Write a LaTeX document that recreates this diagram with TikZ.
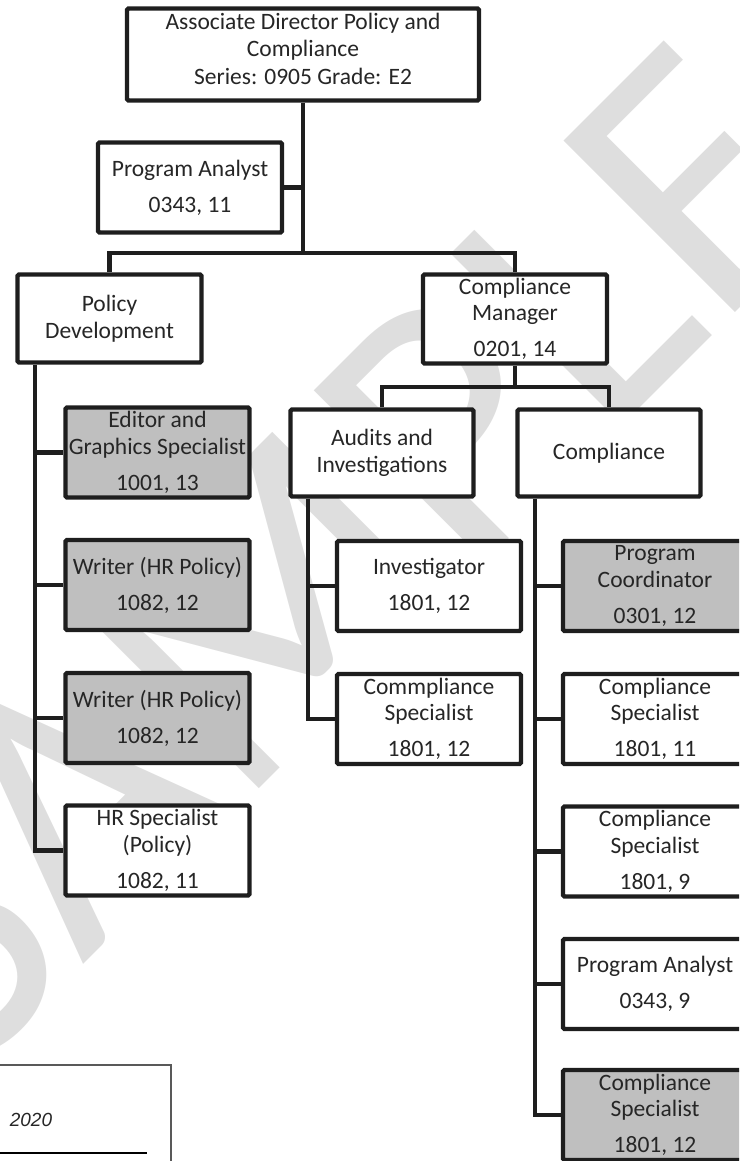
\documentclass[tikz,border=0pt]{standalone}
\usepackage{fontspec}
\setmainfont{Carlito}
\newfontfamily\wmfont{Carlito}
\newfontfamily\arialf{Liberation Sans}
\definecolor{linec}{HTML}{1E1E1E}
\definecolor{textc}{HTML}{262626}
\definecolor{fillg}{HTML}{BFBFBF}
\definecolor{wmc}{HTML}{DEDEDE}
\newcommand{\boxfont}{\fontsize{23.5}{26.5}\selectfont}
\tikzset{
  box/.style={draw=linec, line width=4.3pt, rounded corners=1.5pt, fill=white,
    minimum width=184pt, minimum height=90pt, inner sep=0pt, align=center,
    text=textc, font=\boxfont},
  gbox/.style={box, fill=fillg},
  conn/.style={draw=linec, line width=4.7pt},
}
\begin{document}
\begin{tikzpicture}[x=1pt,y=-1pt]
\useasboundingbox (0,0) rectangle (739,1161);
\begin{scope}
\clip (0,0) rectangle (739,1161);
% watermark
\node[text=wmc, rotate=45, anchor=base west, inner sep=0pt, outer sep=0pt,
  font=\wmfont\fontsize{378}{378}\selectfont] (wm) at (-38,1086) {SAMPLE};

% junctions
\coordinate (j1) at (303,253);
\coordinate (j2) at (515,387);
\coordinate (ls) at (35,0);
\coordinate (as) at (308,0);
\coordinate (cs) at (535,0);

% nodes
\node[box, minimum width=352pt, minimum height=92pt, align=none, font=\fontsize{23.5}{27.5}\selectfont] (top) at (303,54.5)
  {\raisebox{3pt}[\height][\depth]{\begin{tabular}{@{}c@{}}Associate Director Policy and\\Compliance\\Series: 0905 Grade: E2\end{tabular}}};
\node[box] (pa) at (190,187.5) {Program Analyst\\[9.5pt]0343, 11};
\node[box, minimum height=88pt] (pd) at (109.5,318.5) {Policy\\Development};
\node[box, minimum height=89pt] (cm) at (515,319) {Compliance\\Manager\\[9.5pt]0201, 14};

\node[gbox] (ed) at (157.5,452.5) {Editor and\\Graphics Specialist\\[9.5pt]1001, 13};
\node[gbox] (w1) at (157.5,585) {Writer (HR Policy)\\[9.5pt]1082, 12};
\node[gbox] (w2) at (157.5,718) {Writer (HR Policy)\\[9.5pt]1082, 12};
\node[box] (hr) at (157.5,850.5) {HR Specialist\\(Policy)\\[9.5pt]1082, 11};

\node[box, minimum width=183pt, minimum height=87pt] (aud) at (382,453) {Audits and\\Investigations};
\node[box, minimum width=183pt, minimum height=87pt] (comp) at (609,453) {Compliance};
\node[box] (inv) at (429,586) {Investigator\\[9.5pt]1801, 12};
\node[box] (csp) at (429,719) {Commpliance\\Specialist\\[9.5pt]1801, 12};

\node[gbox] (pc) at (655,586) {Program\\Coordinator\\[9.5pt]0301, 12};
\node[box] (cs11) at (655,719) {Compliance\\Specialist\\[9.5pt]1801, 11};
\node[box] (cs9) at (655,851.5) {Compliance\\Specialist\\[9.5pt]1801, 9};
\node[box] (pa9) at (655,984) {Program Analyst\\[9.5pt]0343, 9};
\node[gbox] (cs12) at (655,1115) {Compliance\\Specialist\\[9.5pt]1801, 12};

% connectors
\draw[conn] (top.south) -- (j1);
\draw[conn] (pa.east) -- (pa.east -| j1);
\draw[conn] (pd.north) |- (j1) -| (cm.north);
\draw[conn] (cm.south) -- (j2);
\draw[conn] (aud.north) |- (j2) -| (comp.north);

\draw[conn] (pd.south -| ls) |- (hr.west);
\draw[conn] (ed.west -| ls) -- (ed.west);
\draw[conn] (w1.west -| ls) -- (w1.west);
\draw[conn] (w2.west -| ls) -- (w2.west);

\draw[conn] (aud.south -| as) |- (csp.west);
\draw[conn] (inv.west -| as) -- (inv.west);

\draw[conn] (comp.south -| cs) |- (cs12.west);
\draw[conn] (pc.west -| cs) -- (pc.west);
\draw[conn] (cs11.west -| cs) -- (cs11.west);
\draw[conn] (cs9.west -| cs) -- (cs9.west);
\draw[conn] (pa9.west -| cs) -- (pa9.west);

% footer box
\draw[line width=1.3pt, draw=black!65] (-5,1065) -- (171,1065) -- (171,1170);
\node[font=\arialf\itshape\fontsize{19}{19}\selectfont, text=black!85, inner sep=0pt] (yr) at (31,1120) {2020};
\draw[line width=2.5pt, draw=black] (-5,1153) -- (147,1153);
\end{scope}
\end{tikzpicture}
\end{document}
